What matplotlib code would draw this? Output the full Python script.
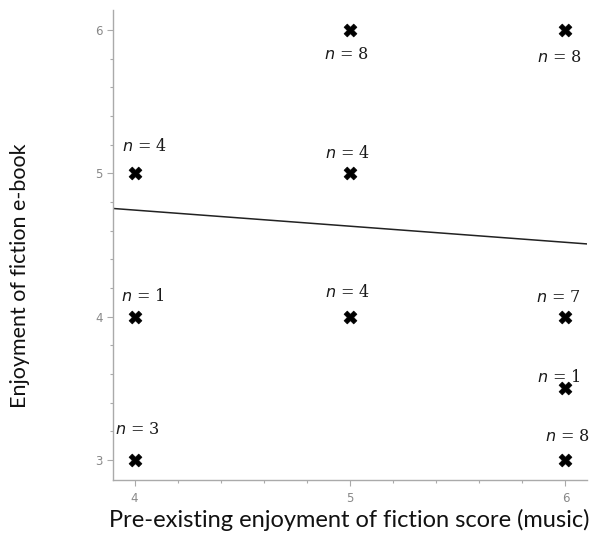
import matplotlib

matplotlib.use("Agg")

import numpy as np
from matplotlib import pyplot as plt
from matplotlib.ticker import MultipleLocator

# pre-existing enjoyment (x), e-book enjoyment (y), and participant counts
music_score = [4, 4, 4, 5, 5, 5, 6, 6, 6, 6]
ebook_score = [5, 4, 3, 6, 5, 4, 6, 4, 3.5, 3]
counts = [4, 1, 3, 8, 4, 4, 8, 7, 1, 8]

x_ticks = [4, 5, 6]
y_ticks = [3, 4, 5, 6]

# label offsets in pixels (dx, dy) relative to each marker
label_offsets = [
    (10, 27), (8, 20), (3, 30), (-4, -24), (-2, 20),
    (-2, 24), (-6, -27), (-7, 19), (-7, 11), (2, 23),
]

DPI = 100
fig = plt.figure(figsize=(5.89, 5.40), dpi=DPI)
ax = fig.add_axes([113 / 589, 60 / 540, 474 / 589, 470 / 540])

ax.set_xlim(3.9, 6.1)
ax.set_ylim(2.86, 6.14)

# weighted least-squares line through the grouped responses
slope, intercept = np.polyfit(music_score, ebook_score, 1, w=np.sqrt(counts))
x_line = np.array(ax.get_xlim())
ax.plot(x_line, slope * x_line + intercept, color="#222222", linewidth=1.1, zorder=2)

ax.scatter(music_score, ebook_score, marker="X", s=85, color="black",
           edgecolors="black", linewidths=0.5, zorder=3)

pt = 72 / DPI
for x, y, n, (dx, dy) in zip(music_score, ebook_score, counts, label_offsets):
    ax.annotate(f"$n$ = {n}", (x, y), xytext=(dx * pt, dy * pt),
                textcoords="offset points", ha="center", va="center",
                fontsize=11.5, family="DejaVu Serif", color="#1a1a1a", zorder=4)

for side in ("top", "right"):
    ax.spines[side].set_visible(False)
for side in ("left", "bottom"):
    ax.spines[side].set_color("#aaaaaa")
    ax.spines[side].set_linewidth(1.0)

ax.set_xticks(x_ticks)
ax.set_yticks(y_ticks)
ax.xaxis.set_minor_locator(MultipleLocator(0.2))
ax.yaxis.set_minor_locator(MultipleLocator(0.2))
ax.tick_params(which="both", direction="out", color="#aaaaaa", labelcolor="#888888",
               labelsize=8.5, width=0.8)
ax.tick_params(which="major", length=4)
ax.tick_params(which="minor", length=2.5)
ax.tick_params(axis="x", pad=5)

fig.text(349 / 589, 1 - 520 / 540, "Pre-existing enjoyment of fiction score (music)",
         ha="center", va="center", fontsize=17, family="Lato", color="#111111")
fig.text(20 / 589, 1 - 276 / 540, "Enjoyment of fiction e-book", rotation=90,
         ha="center", va="center", fontsize=15.5, family="Lato", color="#111111")

fig.savefig("out.png", dpi=DPI)
plt.close(fig)
